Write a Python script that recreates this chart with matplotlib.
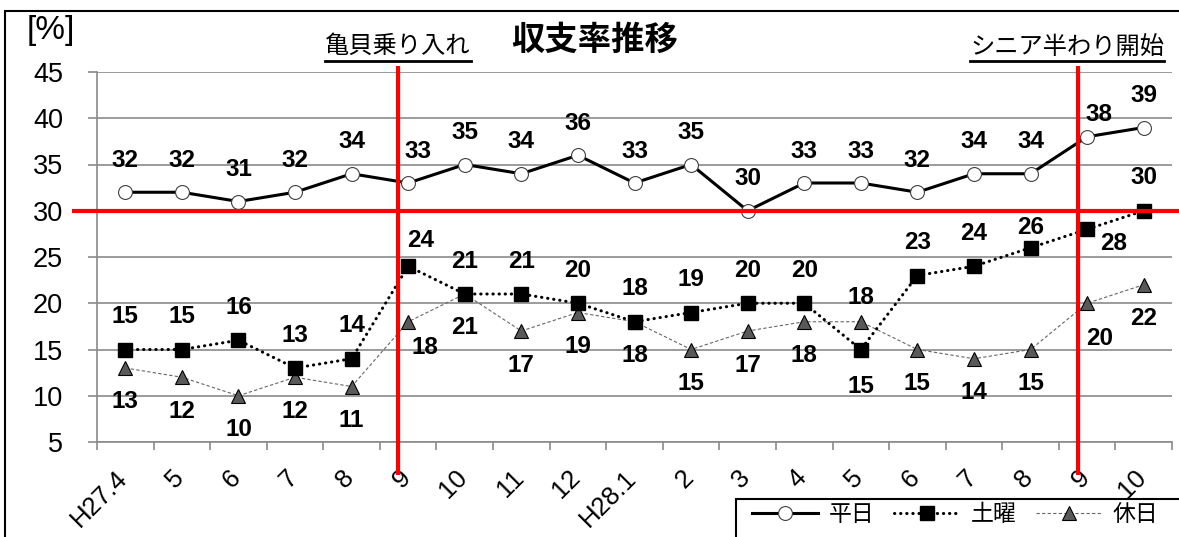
import matplotlib
matplotlib.use("Agg")
import matplotlib.pyplot as plt
from matplotlib.lines import Line2D
from matplotlib.patches import Rectangle
from matplotlib.transforms import ScaledTranslation

# ---- data ----
months = ["H27.4", "5", "6", "7", "8", "9", "10", "11", "12", "H28.1",
          "2", "3", "4", "5", "6", "7", "8", "9", "10"]
weekday = [32, 32, 31, 32, 34, 33, 35, 34, 36, 33, 35, 30, 33, 33, 32, 34, 34, 38, 39]
saturday = [15, 15, 16, 13, 14, 24, 21, 21, 20, 18, 19, 20, 20, 15, 23, 24, 26, 28, 30]
holiday = [13, 12, 10, 12, 11, 18, 21, 17, 19, 18, 15, 17, 18, 18, 15, 14, 15, 20, 22]
series_names = ["平日", "土曜", "休日"]
title = "収支率推移"
event_labels = ["亀貝乗り入れ", "シニア半わり開始"]
event_x = [4.82, 16.83]
target_line = 30

# label offsets in pixels (dx, dy up)
off_weekday = {5: (10, 31), 17: (12, 22)}
off_saturday = {5: (12, 26), 13: (0, -37), 16: (0, 20), 17: (26, -14)}
off_holiday = {5: (17, -26), 13: (0, 24), 17: (12, -35)}

CJK = ["Noto Sans CJK JP", "DejaVu Sans"]
NUM = ["Liberation Sans", "DejaVu Sans"]

W, H = 1179, 537
fig = plt.figure(figsize=(W / 100, H / 100), dpi=100)
ax = fig.add_axes([97 / W, 1 - 442 / H, (1172 - 97) / W, (442 - 72) / H])

x = list(range(len(months)))
grid_c = "#8a8a8a"

ax.set_ylim(5, 45)
ax.set_xlim(-0.5, len(months) - 0.5)
ax.set_yticks(range(5, 46, 5))
ax.yaxis.grid(True, color=grid_c, linewidth=1.2)
ax.set_axisbelow(True)

l1, = ax.plot(x, weekday, color="black", linewidth=2.2, marker="o", markersize=10,
              markerfacecolor="white", markeredgecolor="#404040", markeredgewidth=0.8,
              label=series_names[0], zorder=4)
l2, = ax.plot(x, saturday, color="black", linewidth=2.2, linestyle=(0, (0.1, 1.9)),
              dash_capstyle="round", marker="s", markersize=9.5,
              markerfacecolor="black", markeredgecolor="black", label=series_names[1], zorder=4)
l3, = ax.plot(x, holiday, color="#666666", linewidth=0.8, linestyle=(0, (3, 2)),
              marker="^", markersize=10.5, markerfacecolor="#595959",
              markeredgecolor="black", markeredgewidth=0.8, label=series_names[2], zorder=3)

def put_labels(vals, default, offs):
    for i, v in enumerate(vals):
        dx, dy = offs.get(i, default)
        ax.annotate(str(v), (i, v), xytext=(dx * 0.72, dy * 0.72), textcoords="offset points",
                    ha="center", va="center", fontsize=17.5, fontweight="bold",
                    family=NUM, color="black", zorder=6, annotation_clip=False)

put_labels(weekday, (0, 32), off_weekday)
put_labels(saturday, (0, 33), off_saturday)
put_labels(holiday, (0, -34), off_holiday)

# red reference lines
ax.plot([-0.5 - 25 / 56.6, len(months) - 0.5 + 7 / 56.6], [target_line, target_line],
        color="red", linewidth=3, clip_on=False, zorder=5, solid_capstyle="butt")
for ex in event_x:
    ax.plot([ex, ex], [-0.089, 1.016], color="red", linewidth=3, clip_on=False, zorder=5,
            transform=ax.get_xaxis_transform(), solid_capstyle="butt")

for s in ["top", "right"]:
    ax.spines[s].set_visible(False)
for s in ["left", "bottom"]:
    ax.spines[s].set_color(grid_c)
    ax.spines[s].set_linewidth(1.2)

ax.tick_params(axis="y", length=6.5, width=1.2, color=grid_c, pad=18, labelsize=19.5)
for t in ax.get_yticklabels():
    t.set_family(NUM)

ax.set_xticks(x)
ax.set_xticklabels(months, rotation=45, ha="right", va="top", fontsize=18.5, family=NUM)
ax.set_xticks([i - 0.5 for i in range(len(months) + 1)], minor=True)
ax.tick_params(axis="x", which="major", length=0, pad=17)
ax.tick_params(axis="x", which="minor", length=6, width=1.2, color=grid_c, direction="out")
shift = ScaledTranslation(7 / 100, 0, fig.dpi_scale_trans)
for t in ax.get_xticklabels():
    t.set_transform(t.get_transform() + shift)

fig.text(595 / W, 1 - 40 / H, title, ha="center", va="center", fontsize=24,
         fontweight="bold", family=CJK)
fig.text(51 / W, 1 - 30 / H, "[%]", ha="center", va="center", fontsize=24, family=NUM)
t1 = fig.text(398 / W, 1 - 46 / H, event_labels[0], ha="center", va="center",
              fontsize=17.5, family=CJK)
t2 = fig.text(1067 / W, 1 - 47 / H, event_labels[1], ha="center", va="center",
              fontsize=17.5, family=CJK)

# legend (frameless) + its box drawn separately so that it runs off the edge
leg = fig.legend(handles=[l1, l2, l3], loc="upper left",
                 bbox_to_anchor=(752 / W, 1 - 503 / H), ncol=3, frameon=False,
                 prop={"family": CJK, "size": 16.5}, handlelength=2.9,
                 handletextpad=0.45, columnspacing=0.85, borderpad=0, borderaxespad=0)
fig.add_artist(Rectangle((736 / W, -0.1), 0.5, (537 - 499) / H + 0.1,
                         transform=fig.transFigure, fill=False, edgecolor="black",
                         linewidth=1.5, clip_on=False))

fig.add_artist(Rectangle((5 / W, -0.1), 1.2, 1 - 11 / H + 0.1, transform=fig.transFigure,
                         fill=False, edgecolor="black", linewidth=1.5, clip_on=False))

fig.canvas.draw()
r = fig.canvas.get_renderer()
for t in (t1, t2):
    bb = t.get_window_extent(r)
    yline = (537 - 61) / H
    fig.add_artist(Line2D([bb.x0 / W, bb.x1 / W], [yline, yline], transform=fig.transFigure,
                          color="black", linewidth=2))

fig.savefig("out.png", dpi=100)
